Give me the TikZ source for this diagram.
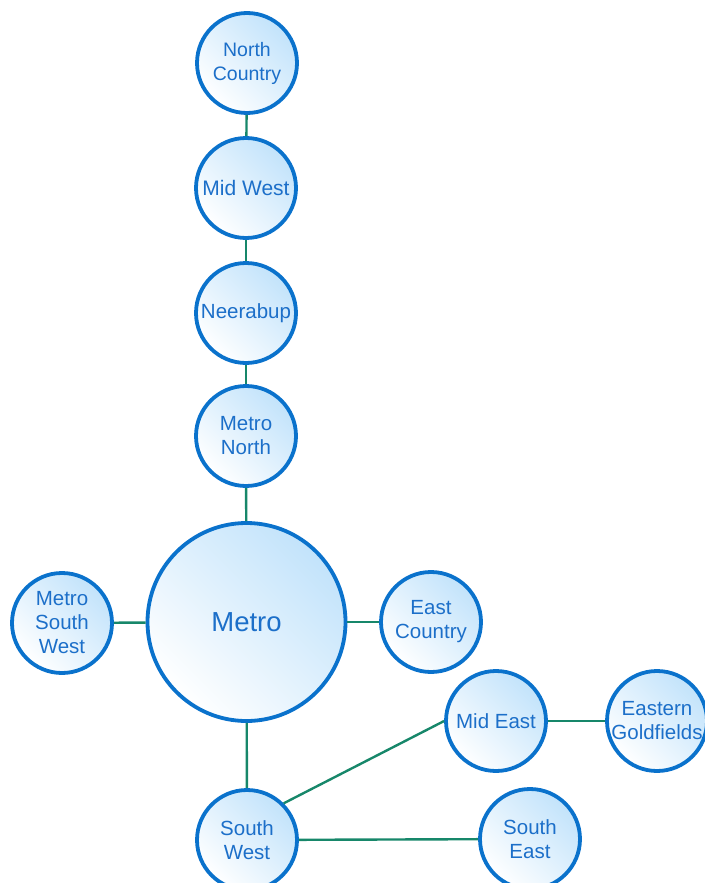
\documentclass[tikz,border=0pt]{standalone}
\usepackage{fontspec}
\setmainfont{Liberation Sans}
\definecolor{ringblue}{HTML}{0A72CC}
\definecolor{txtblue}{HTML}{1C6FC9}
\definecolor{fillblue}{HTML}{C2E3FB}
\definecolor{edgegreen}{HTML}{17876A}
\begin{document}
\begin{tikzpicture}[x=1pt,y=-1pt,
  region/.style={circle, draw=ringblue, line width=3.8pt, minimum size=100pt, inner sep=0pt,
    left color=white, right color=fillblue, shading angle=135, text=txtblue, align=center,
    font=\fontsize{20.5}{24}\selectfont},
  hub/.style={region, minimum size=198pt, font=\fontsize{27.5}{32}\selectfont},
  link/.style={draw=edgegreen, line width=2.4pt}]
\useasboundingbox (0,0) rectangle (704,883);
\node[region, font=\fontsize{19.5}{24}\selectfont] (nc) at (247,63) {North\\Country};
\node[region, font=\fontsize{21}{24}\selectfont] (mw) at (246,188) {Mid West};
\node[region] (nb) at (246,313) {Neerabup};
\node[region] (mn) at (246,436) {Metro\\North};
\node[hub] (metro) at (246.5,622) {Metro};
\node[region] (msw) at (62,623) {Metro\\South\\West};
\node[region] (ec) at (431,622) {East\\Country};
\node[region] (me) at (496,721) {Mid East};
\node[region] (eg) at (657,721) {Eastern\\Goldfields};
\node[region] (sw) at (247,840) {South\\West};
\node[region] (se) at (530,839) {South\\East};
\path[link] (nc) -- (mw);
\path[link] (mw) -- (nb);
\path[link] (nb) -- (mn);
\path[link] (mn) -- (metro);
\path[link] (metro) -- (msw);
\path[link] (metro) -- (ec);
\path[link] (metro) -- (sw);
\path[link] (sw.north east) -- (me.west);
\path[link] (me) -- (eg);
\path[link] (sw) -- (se);
\end{tikzpicture}
\end{document}
